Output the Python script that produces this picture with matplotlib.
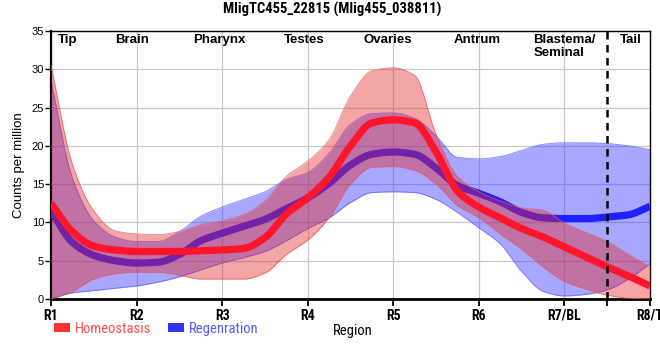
import numpy as np
import matplotlib
matplotlib.use("Agg")
import matplotlib.pyplot as plt
from matplotlib.patches import Patch

# ---------------- data ----------------
positions = [1, 1.25, 1.5, 1.75, 2, 2.25, 2.5, 2.75, 3, 3.25, 3.5, 3.75, 4, 4.25,
             4.5, 4.75, 5, 5.25, 5.5, 5.75, 6, 6.25, 6.5, 6.75, 7, 7.25, 7.5, 7.75, 8]

homeo_mean = [12.5, 8.8, 6.9, 6.4, 6.2, 6.2, 6.2, 6.3, 6.4, 6.6, 8.0, 11.1, 13.2, 15.9,
              20.0, 23.0, 23.4, 23.0, 19.2, 14.1, 12.0, 10.6, 9.2, 8.1, 6.8, 5.5, 4.2, 3.0, 1.7]
homeo_upper = [30.5, 17.6, 11.5, 8.9, 8.5, 8.4, 8.8, 9.7, 10.2, 11.0, 12.8, 16.0, 18.0, 20.8,
               26.5, 29.8, 30.2, 29.2, 21.5, 16.0, 14.0, 12.8, 11.9, 11.6, 9.9, 8.7, 7.5, 5.8, 4.2]
homeo_lower = [0.0, 1.0, 2.6, 3.3, 3.5, 3.5, 3.1, 2.6, 2.6, 2.6, 3.4, 5.8, 7.7, 10.6,
               15.0, 17.2, 17.3, 16.8, 15.0, 12.2, 10.6, 8.5, 6.5, 4.2, 2.3, 1.3, 0.5, 0.1, 0.0]

regen_mean = [11.5, 7.4, 5.7, 5.0, 4.7, 4.8, 5.8, 7.6, 8.6, 9.5, 10.4, 11.8, 13.2, 15.1,
              17.5, 18.9, 19.2, 18.9, 17.1, 14.8, 13.8, 12.7, 11.3, 10.6, 10.5, 10.5, 10.7, 11.0, 12.1]
regen_upper = [28.5, 15.8, 10.2, 8.1, 7.5, 7.5, 8.8, 10.8, 12.0, 13.0, 14.0, 15.6, 16.5, 19.0,
               22.8, 24.2, 24.3, 23.6, 21.3, 18.5, 18.3, 18.6, 19.4, 20.2, 20.4, 20.4, 20.3, 20.0, 19.5]
regen_lower = [0.0, 0.8, 1.1, 1.4, 1.7, 2.2, 2.9, 3.8, 4.7, 5.4, 6.2, 7.6, 9.2, 10.6,
               12.6, 13.9, 14.0, 13.9, 13.0, 11.3, 9.3, 7.2, 3.6, 1.0, 0.4, 0.6, 1.2, 2.6, 4.6]

tick_positions = [1, 2, 3, 4, 5, 6, 7, 8]
tick_labels = ["R1", "R2", "R3", "R4", "R5", "R6", "R7/BL", "R8/T"]
region_names = ["Tip", "Brain", "Pharynx", "Testes", "Ovaries", "Antrum", "Tail"]
region_x = [1.20, 1.95, 2.97, 3.955, 4.94, 5.98, 7.78]
blastema_label = "Blastema/\nSeminal"
blastema_x = 6.64
boundary_x = 7.5

title = "MligTC455_22815 (Mlig455_038811)"
series_names = ["Homeostasis", "Regenration"]


# ---------------- smooth rendering (monotone cubic) ----------------
def pchip(x, y, xn):
    x = np.asarray(x, float); y = np.asarray(y, float)
    h = np.diff(x); d = np.diff(y) / h
    m = np.zeros_like(y)
    for k in range(1, len(y) - 1):
        if d[k - 1] * d[k] <= 0:
            m[k] = 0.0
        else:
            w1 = 2 * h[k] + h[k - 1]
            w2 = h[k] + 2 * h[k - 1]
            m[k] = (w1 + w2) / (w1 / d[k - 1] + w2 / d[k])
    m[0] = d[0]; m[-1] = d[-1]
    idx = np.clip(np.searchsorted(x, xn) - 1, 0, len(x) - 2)
    t = (xn - x[idx]) / h[idx]
    h00 = 2 * t**3 - 3 * t**2 + 1
    h10 = t**3 - 2 * t**2 + t
    h01 = -2 * t**3 + 3 * t**2
    h11 = t**3 - t**2
    return h00 * y[idx] + h10 * h[idx] * m[idx] + h01 * y[idx + 1] + h11 * h[idx] * m[idx + 1]


xs = np.linspace(positions[0], positions[-1], 800)

NARROW = ["Roboto Condensed", "PT Sans Narrow", "DejaVu Sans"]
ARIAL = ["Liberation Sans", "DejaVu Sans"]

fig = plt.figure(figsize=(6.6, 3.6), dpi=100)
ax = fig.add_axes([51 / 660, 1 - 299 / 360, 599 / 660, 268 / 360])

red_fill = (0.90, 0.16, 0.16)
blue_fill = (0.24, 0.24, 1.0)

# regeneration band + line (under homeostasis band)
ax.fill_between(xs, pchip(positions, regen_lower, xs), pchip(positions, regen_upper, xs),
                color=blue_fill, alpha=0.45, linewidth=0, zorder=2)
ax.plot(xs, pchip(positions, regen_upper, xs), color=(0.35, 0.35, 1.0), lw=0.7, alpha=0.7, zorder=2)
ax.plot(xs, pchip(positions, regen_lower, xs), color=(0.35, 0.35, 1.0), lw=0.7, alpha=0.7, zorder=2)
ax.plot(xs, pchip(positions, regen_mean, xs), color=(0.12, 0.12, 1.0), lw=5.2,
        solid_capstyle="butt", zorder=3)

# homeostasis band + line
ax.fill_between(xs, pchip(positions, homeo_lower, xs), pchip(positions, homeo_upper, xs),
                color=red_fill, alpha=0.42, linewidth=0, zorder=4)
ax.plot(xs, pchip(positions, homeo_upper, xs), color=(0.9, 0.35, 0.35), lw=0.7, alpha=0.7, zorder=4)
ax.plot(xs, pchip(positions, homeo_lower, xs), color=(0.9, 0.35, 0.35), lw=0.7, alpha=0.7, zorder=4)
ax.plot(xs, pchip(positions, homeo_mean, xs), color=(1.0, 0.08, 0.16), lw=5.2,
        solid_capstyle="butt", zorder=5)

# boundary line
ax.axvline(boundary_x, color="black", lw=1.8, ls=(0, (3, 2.2)), zorder=6)

ax.set_xlim(1, 8)
ax.set_ylim(0, 35)
ax.set_yticks(np.arange(0, 36, 5))
ax.set_xticks(tick_positions)
ax.set_xticklabels(tick_labels, fontfamily=NARROW, fontweight="bold", fontsize=10)
ax.set_xticks([boundary_x], minor=True)
ax.grid(True, color=(0.78, 0.78, 0.78), lw=0.9, zorder=0)
ax.set_axisbelow(True)
ax.tick_params(axis="x", which="both", direction="out", length=5, width=1.3, pad=2)
ax.tick_params(axis="y", direction="out", length=4, width=1.0, labelsize=8, pad=1)
for lab in ax.get_yticklabels():
    lab.set_fontfamily(ARIAL)

for s in ["top", "right"]:
    ax.spines[s].set_linewidth(1.0)
ax.spines["left"].set_linewidth(1.6)
ax.spines["bottom"].set_linewidth(2.0)

ax.set_ylabel("Counts per million", fontfamily=ARIAL, fontsize=9.5, labelpad=5)
ax.set_xlabel("Region", fontfamily=NARROW, fontsize=10.5)
ax.xaxis.set_label_coords(0.504, -0.095)

for name, xp in zip(region_names, region_x):
    ax.text(xp, 34.6, name, ha="center", va="top", fontfamily=ARIAL,
            fontweight="bold", fontsize=9.5, zorder=7)
ax.text(blastema_x, 34.6, blastema_label, ha="left", va="top", fontfamily=ARIAL,
        fontweight="bold", fontsize=9.5, linespacing=1.05, zorder=7)

fig.text(0.503, 1 - 9 / 360, title, ha="center", va="center", fontfamily=NARROW,
         fontweight="bold", fontsize=10.5)

handles = [Patch(facecolor=(1.0, 0.2, 0.2), edgecolor="none"),
           Patch(facecolor=(0.2, 0.2, 1.0), edgecolor="none")]
leg = fig.legend(handles, series_names, loc="center left",
                 bbox_to_anchor=(54 / 660, 1 - 329 / 360), ncol=2, frameon=False,
                 prop={"family": NARROW, "size": 10.5}, handlelength=1.1, handleheight=0.6,
                 handletextpad=0.3, columnspacing=1.2, borderaxespad=0, borderpad=0)
leg.get_texts()[0].set_color((1.0, 0.3, 0.3))
leg.get_texts()[1].set_color((0.35, 0.35, 1.0))

fig.savefig("out.png", dpi=100)
